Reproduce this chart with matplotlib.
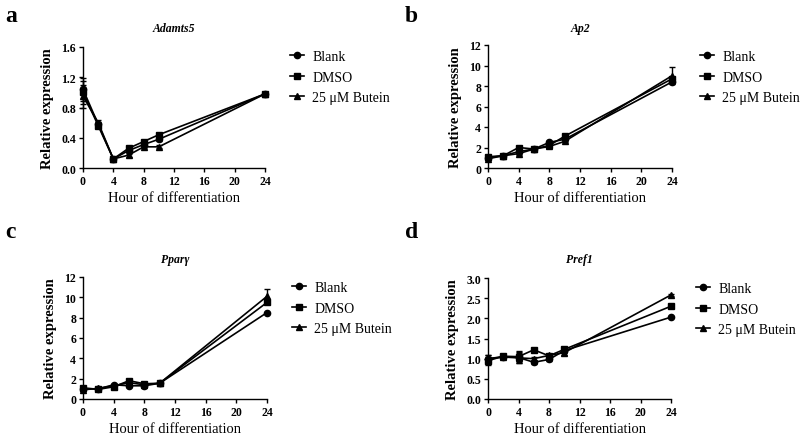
import matplotlib
matplotlib.use("Agg")
import matplotlib.pyplot as plt

plt.rcParams["font.family"] = ["Liberation Serif", "DejaVu Serif"]

hours = [0, 2, 4, 6, 8, 10, 24]
groups = ["Blank", "DMSO", "25 \u03bcM Butein"]
markers = ["o", "s", "^"]

# Adamts5
adamts5_blank = [1.04, 0.58, 0.12, 0.23, 0.31, 0.38, 0.98]
adamts5_dmso = [1.00, 0.56, 0.12, 0.26, 0.35, 0.44, 0.98]
adamts5_butein = [0.95, 0.60, 0.12, 0.17, 0.28, 0.28, 0.98]
adamts5_err = [0.15, 0.03, 0.02, 0.02, 0.02, 0.02, 0.01]

# Ap2
ap2_blank = [1.00, 1.20, 1.60, 1.85, 2.50, 2.80, 8.40]
ap2_dmso = [1.10, 1.20, 2.00, 1.85, 2.20, 3.10, 8.70]
ap2_butein = [0.90, 1.20, 1.40, 1.85, 2.10, 2.60, 9.00]
ap2_err = [0.15, 0.05, 0.10, 0.05, 0.10, 0.10, 0.85]

# Ppary
pparg_blank = [1.00, 1.00, 1.40, 1.30, 1.30, 1.55, 8.50]
pparg_dmso = [1.10, 0.95, 1.20, 1.80, 1.50, 1.55, 9.50]
pparg_butein = [0.90, 1.05, 1.30, 1.60, 1.40, 1.55, 10.10]
pparg_err = [0.10, 0.10, 0.10, 0.10, 0.05, 0.05, 0.75]

# Pref1
pref1_blank = [1.00, 1.05, 1.03, 0.91, 0.98, 1.20, 2.03]
pref1_dmso = [0.95, 1.06, 1.05, 1.22, 1.07, 1.23, 2.30]
pref1_butein = [1.00, 1.04, 1.02, 1.00, 1.08, 1.15, 2.58]
pref1_err = [0.10, 0.04, 0.13, 0.04, 0.04, 0.06, 0.02]

panels = [
    ("a", "Adamts5", [adamts5_blank, adamts5_dmso, adamts5_butein], adamts5_err,
     1.6, [0.0, 0.4, 0.8, 1.2, 1.6], "{:.1f}"),
    ("b", "Ap2", [ap2_blank, ap2_dmso, ap2_butein], ap2_err,
     12, [0, 2, 4, 6, 8, 10, 12], "{:d}"),
    ("c", "Ppar\u03b3", [pparg_blank, pparg_dmso, pparg_butein], pparg_err,
     12, [0, 2, 4, 6, 8, 10, 12], "{:d}"),
    ("d", "Pref1", [pref1_blank, pref1_dmso, pref1_butein], pref1_err,
     3.0, [0.0, 0.5, 1.0, 1.5, 2.0, 2.5, 3.0], "{:.1f}"),
]

# layout in pixels: axes box (left, right, top, bottom), panel letter, title y, legend (x, y)
boxes = [(83, 265, 48, 169), (488, 672, 46, 169),
         (83, 267, 278, 400), (488, 671, 279, 400)]
letters = [(5, 16), (405, 16), (5, 233), (405, 233)]
title_y = [29, 29, 260, 260]
legend_xy = [(290, 51), (700, 51), (292, 282), (696, 283)]

W, H = 800, 435
fig = plt.figure(figsize=(8, 4.35), dpi=100)

for i, ((lab, title, series, err, ymax, yticks, fmt), (l, r, t, b)) in enumerate(zip(panels, boxes)):
    ax = fig.add_axes([l / W, 1 - b / H, (r - l) / W, (b - t) / H])
    handles = []
    for k, (vals, m) in enumerate(zip(series, markers)):
        e = err if k == 2 else err[:-1] + [0]
        ax.errorbar(hours, vals, yerr=e, fmt="none", ecolor="black",
                    capsize=2.5, elinewidth=1, clip_on=False)
        h, = ax.plot(hours, vals, color="black", marker=m, ms=4.5, lw=1.2,
                     label=groups[k], clip_on=False)
        handles.append(h)
    ax.set_xlim(0, 24)
    ax.set_ylim(0, ymax)
    ax.set_xticks([0, 4, 8, 12, 16, 20, 24])
    ax.set_yticks(yticks)
    ax.set_yticklabels([fmt.format(v) for v in yticks])
    for s in ["top", "right"]:
        ax.spines[s].set_visible(False)
    for s in ["left", "bottom"]:
        ax.spines[s].set_linewidth(1.0)
    ax.tick_params(direction="out", length=3, width=1, labelsize=8.5, pad=2)
    for tl in ax.get_xticklabels() + ax.get_yticklabels():
        tl.set_fontweight("bold")
    ax.set_ylabel("Relative expression", fontsize=10.5, fontweight="bold", labelpad=5)
    ax.set_xlabel("Hour of differentiation", fontsize=10.5, labelpad=3)

    fig.text((l + r) / 2 / W, 1 - title_y[i] / H, title, fontsize=8.5,
             fontstyle="italic", fontweight="bold", ha="center", va="center")
    lx, ly = legend_xy[i]
    ax.legend(handles=handles, loc="upper left", bbox_to_anchor=(lx / W, 1 - ly / H),
              bbox_transform=fig.transFigure, frameon=False, fontsize=10,
              handlelength=1.0, handletextpad=0.6, labelspacing=0.55,
              borderpad=0, borderaxespad=0)
    fig.text(letters[i][0] / W, 1 - letters[i][1] / H, lab, fontsize=17,
             fontweight="bold", va="center", ha="left")

fig.savefig("out.png", dpi=100)
